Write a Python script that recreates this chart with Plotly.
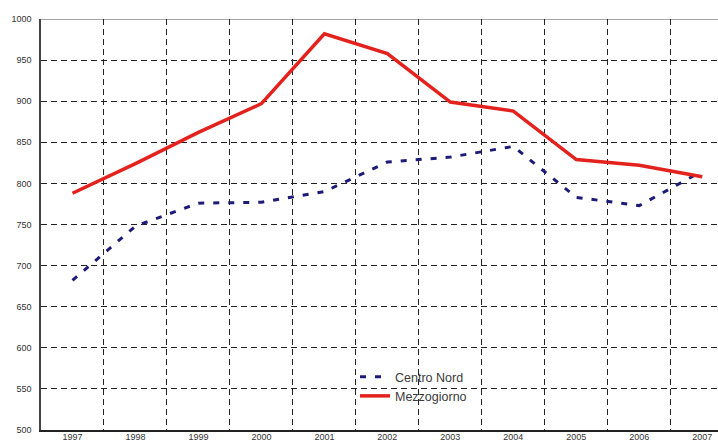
import plotly.graph_objects as go

years = ["1997", "1998", "1999", "2000", "2001", "2002", "2003", "2004", "2005", "2006", "2007"]
centro_nord = [682, 748, 776, 777, 790, 826, 832, 845, 783, 773, 815]
mezzogiorno = [788, 824, 862, 897, 982, 958, 899, 888, 829, 822, 808]

W, H = 718, 441
L, R, T, B = 41, 0, 19, 11
pw = W - L - R
ph = H - T - B

def px_x(p):
    return (p - L) / pw

def px_y(p):
    return (H - B - p) / ph

fig = go.Figure()
fig.add_trace(go.Scatter(x=years, y=centro_nord, mode="lines", name="Centro Nord",
                         line=dict(color="#1c1c78", width=3, dash="6px,9px")))
fig.add_trace(go.Scatter(x=years, y=mezzogiorno, mode="lines", name="Mezzogiorno",
                         line=dict(color="#e3221d", width=3.5)))

# white legend backing box (covers the gridlines)
fig.add_shape(type="rect", xref="paper", yref="paper",
              x0=px_x(300), x1=px_x(545), y0=px_y(400), y1=px_y(365),
              fillcolor="white", line=dict(width=0), layer="between")
# top border line at 1000
fig.add_shape(type="line", xref="paper", yref="y", x0=0, x1=1, y0=1000, y1=1000,
              line=dict(color="#8a8a8a", width=1.5), layer="below")

fig.update_layout(
    width=W, height=H,
    margin=dict(l=L, r=R, t=T, b=B, autoexpand=False),
    paper_bgcolor="white", plot_bgcolor="white",
    font=dict(family="Liberation Sans, Arial, sans-serif", color="#333333"),
    showlegend=True,
    legend=dict(x=px_x(355), y=px_y(362), xanchor="left", yanchor="top",
                bgcolor="rgba(0,0,0,0)", font=dict(size=12.5, color="#3a3a3a"),
                tracegroupgap=0, itemwidth=30),
    xaxis=dict(type="category", range=[-0.5, 10.25], tickson="boundaries",
               automargin=False, ticklabelstandoff=-3,
               showgrid=True, gridcolor="#222222", gridwidth=1, griddash="6px,4px",
               showline=True, linecolor="#222222", linewidth=1.5,
               ticks="", tickfont=dict(size=9, color="#333333"), zeroline=False),
    yaxis=dict(range=[500, 1000], tickvals=[500, 550, 600, 650, 700, 750, 800, 850, 900, 950, 1000],
               automargin=False, ticklabelstandoff=6,
               showgrid=True, gridcolor="#222222", gridwidth=1, griddash="6px,4px",
               showline=True, linecolor="#444444", linewidth=1.5,
               ticks="", tickfont=dict(size=9, color="#333333"), zeroline=False),
)

fig.write_html("out.html", config={"displayModeBar": False},
               post_script="document.body.style.margin='0';document.body.style.overflow='hidden';")
